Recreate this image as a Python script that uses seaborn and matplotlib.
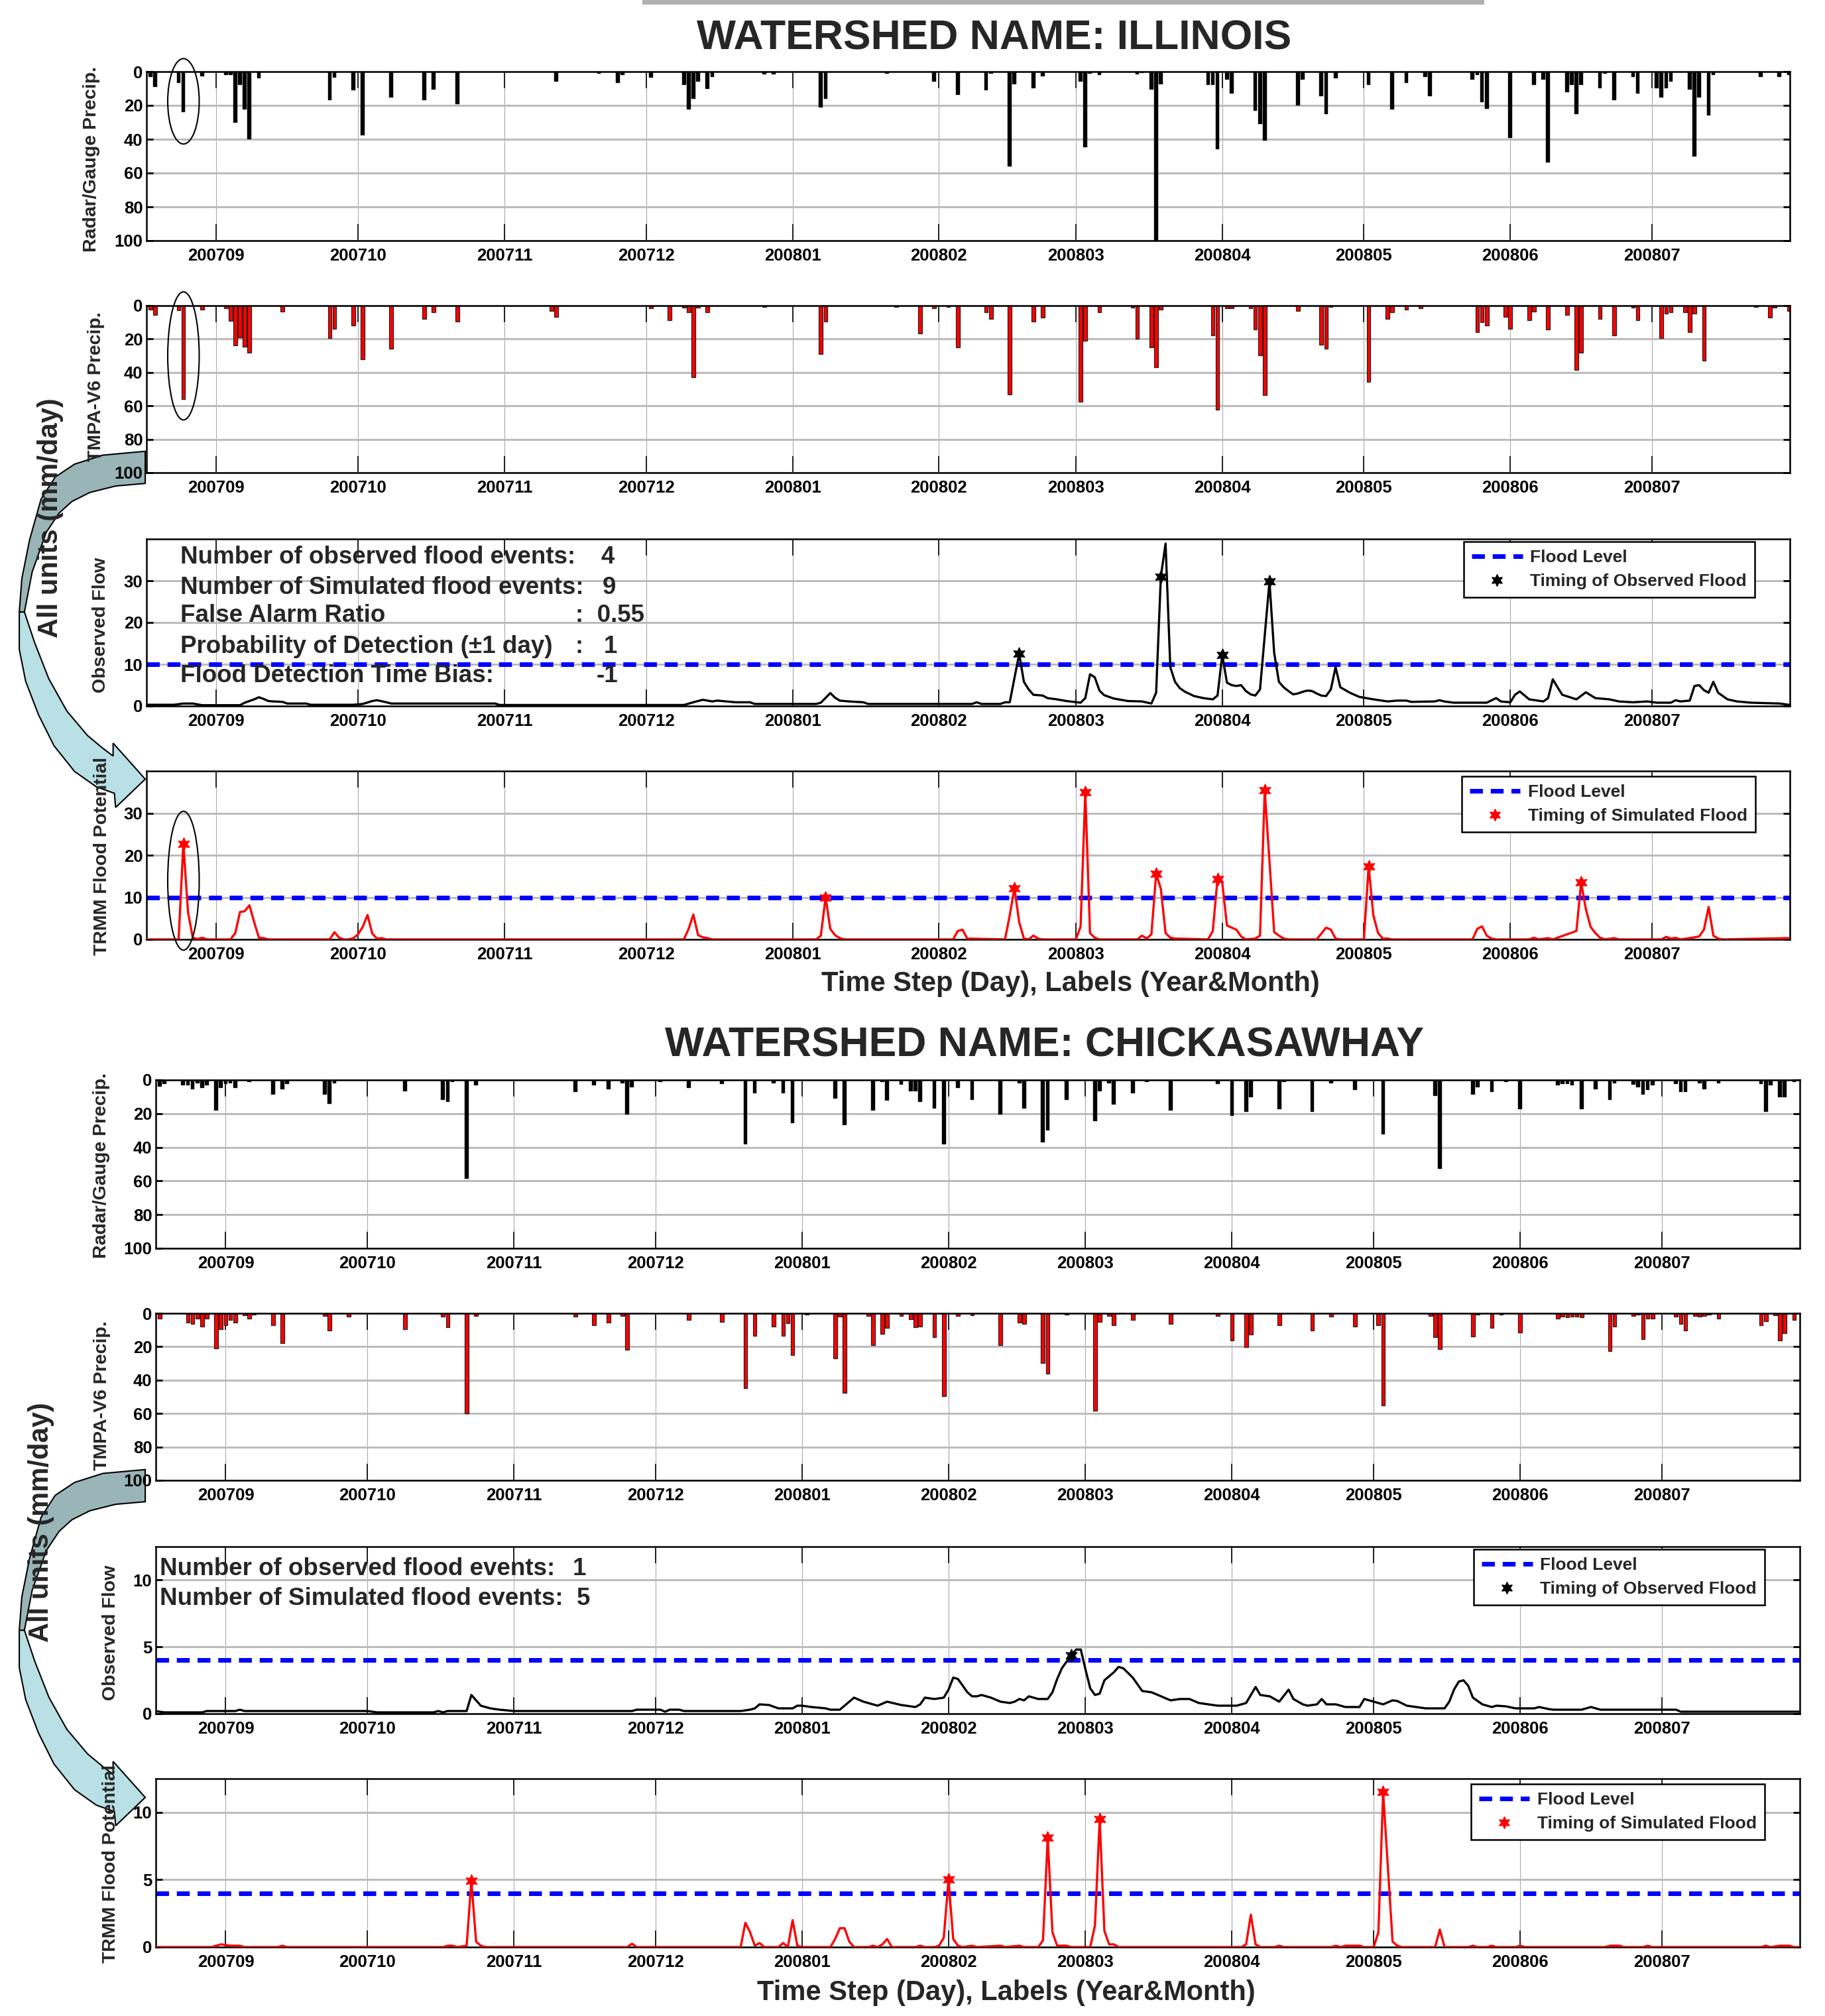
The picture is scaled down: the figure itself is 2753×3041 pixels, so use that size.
import matplotlib
matplotlib.use("Agg")
import matplotlib.pyplot as plt
import seaborn as sns
import numpy as np
import pandas as pd
from matplotlib.patches import Polygon, Ellipse, Rectangle
from matplotlib.lines import Line2D

# ---------------- data (day 0 = 2007-09-01) ----------------
month_days = [0, 30, 61, 91, 122, 153, 182, 213, 243, 274, 304]
month_labels = ["200709", "200710", "200711", "200712", "200801", "200802",
                "200803", "200804", "200805", "200806", "200807"]

il_radar = [(-14,3),(-13,9),(-8,6.6),(-7,24),(-3,2.6),(2,2),(3,2),(4,30),(5,8),(6,22.5),(7,40),(9,4),
            (24,17),(25,3.5),(29,11),(31,37.7),(37,15.4),(44,17),(46,10.7),(51,19.2),(72,6),(81,1),
            (85,6.6),(86,2),(92,3.6),(99,8),(100,22.5),(101,16),(102,5.7),(104,10),(105,3.3),(116,1.7),
            (118,1.7),(128,21),(129,16),(142,1),(152,6),(157,13.6),(163,11),(164,1),(168,56),(169,7.3),
            (173,9.7),(175,2.6),(183,6),(184,44.8),(185,1.3),(187,2),(195,1.7),(196,0.7),(198,10.6),
            (199,100),(200,7.3),(210,8),(211,8),(212,46),(214,4.6),(215,13),(220,23),(221,31),(222,40.7),
            (229,20),(230,4.6),(234,14.6),(235,25),(237,4),(244,8),(249,22.5),(252,6.6),(256,3.3),
            (257,14.6),(266,4.6),(267,2),(268,18),(269,22),(274,39.3),(279,8),(281,4.6),(282,53.6),
            (286,12),(287,8),(288,25),(289,8),(293,9.7),(294,1.3),(296,17),(300,3),(301,13),(305,9.7),
            (306,15.2),(307,9.7),(308,6),(312,10.6),(313,50),(314,15.2),(316,26),(317,2),(327,3.3),
            (331,3.3),(333,2)]

il_tmpa = [(-14,2.4),(-13,5.7),(-8,2.7),(-7,56),(-3,2.4),(2,1.5),(3,9),(4,24),(5,19),(6,24.8),(7,28),
           (14,3.5),(24,19.3),(25,13.7),(29,12),(31,32),(37,25.7),(44,8),(46,4),(51,9.7),(71,3),(72,6.7),
           (92,1.7),(96,8.8),(99,1),(100,4),(101,43),(102,1),(104,4),(116,0.8),(128,29),(129,9.7),
           (144,0.8),(149,16.8),(152,1.5),(155,0.8),(157,25),(163,4),(164,8),(168,53),(173,9.7),(175,7.3),
           (183,57.7),(184,21),(187,4),(194,1),(195,20),(198,25),(199,36.8),(200,2.4),(211,17.7),
           (212,62.3),(214,1.5),(215,1.7),(219,1.5),(220,14.4),(221,29.7),(222,53.7),(229,3),(234,23.3),
           (235,25.7),(236,0.8),(244,45.7),(248,8),(249,4),(252,2.4),(255,1.7),(267,16),(268,10),(269,12),
           (273,6.7),(274,13.7),(278,8.8),(279,3.5),(282,14.4),(286,5.7),(288,38.4),(289,28),(293,8),
           (296,17.7),(300,1),(301,8.8),(306,19.3),(307,4.8),(308,4),(311,4),(312,16),(313,4.8),(315,33),
           (326,0.8),(329,7),(330,1),(333,3)]

il_obs = [(-15,0.3),(-9,0.3),(-7,0.6),(-5,0.6),(-3,0.2),(5,0.2),(6,0.8),(8,1.6),(9,2.1),(10,1.7),(11,1.2),
          (12,1.1),(14,1.0),(15,0.6),(19,0.6),(20,0.3),(29,0.3),(31,0.5),(33,1.2),(34,1.4),(36,0.9),(37,0.6),
          (59,0.6),(60,0.25),(99,0.25),(101,0.9),(103,1.5),(105,1.1),(106,1.3),(108,1.1),(110,0.9),(113,0.9),
          (114,0.5),(127,0.5),(128,0.8),(130,3.1),(131,2.0),(132,1.3),(134,1.1),(137,0.9),(138,0.5),
          (160,0.5),(161,0.9),(162,0.5),(166,0.5),(167,0.9),(168,0.9),(170,12.5),(171,5.8),(172,4.0),
          (173,2.7),(175,2.5),(176,1.9),(178,1.6),(180,1.2),(183,0.8),(184,1.9),(185,7.6),(186,6.9),
          (187,3.7),(188,2.6),(190,1.8),(193,1.2),(196,1.1),(198,0.6),(199,3.2),(200,31.0),(201,38.9),
          (202,9.3),(203,5.8),(204,4.3),(205,3.5),(207,2.4),(209,1.9),(211,1.6),(212,2.5),(213,12.2),
          (214,5.6),(215,5.0),(216,4.8),(217,5.0),(218,3.6),(219,2.8),(220,2.5),(221,4.0),(223,29.8),
          (224,12.7),(225,5.8),(226,4.5),(227,3.6),(228,2.8),(229,3.0),(230,3.4),(231,3.7),(232,3.6),
          (233,3.0),(234,2.5),(235,2.4),(236,4.0),(237,9.3),(238,4.5),(240,3.2),(242,2.2),(245,1.6),
          (248,1.1),(250,1.3),(252,1.3),(253,1.0),(258,1.1),(259,1.4),(260,1.1),(262,0.8),(269,0.8),
          (271,1.9),(272,1.1),(274,0.9),(275,2.7),(276,3.5),(278,1.6),(281,1.1),(282,1.9),(283,6.4),
          (284,4.5),(285,2.7),(288,1.6),(290,3.3),(292,1.9),(295,1.6),(297,1.1),(300,0.9),(303,1.1),
          (305,0.8),(308,0.8),(309,1.4),(310,1.1),(312,1.3),(313,4.8),(314,5.0),(315,3.8),(316,3.2),
          (317,5.8),(318,3.2),(320,1.6),(322,1.1),(325,0.8),(331,0.6),(333,0.3)]
il_obs_flood = [(170,12.5),(200,31.0),(213,12.2),(223,29.8)]

il_trmm = [(-15,0),(-8,0),(-7,22.7),(-6,6.4),(-5,0.4),(-4,0.1),(-3,0.4),(-2,0),(3,0),(4,1.5),(5,6.5),
           (6,6.7),(7,8.1),(8,4.1),(9,0.4),(10,0.3),(11,0),(24,0),(25,1.7),(26,0.4),(27,0),(28,0),(29,0.3),
           (30,1.2),(31,3.0),(32,5.8),(33,1.4),(34,0.2),(35,0.3),(36,0),(99,0),(100,2.5),(101,5.9),(102,1.0),
           (103,0.5),(104,0.3),(105,0),(127,0),(128,0.9),(129,10.0),(130,2.5),(131,1.0),(132,0.3),(133,0),
           (156,0),(157,2.0),(158,2.3),(159,0.2),(167,0),(168,5.7),(169,12.2),(170,4.1),(171,0.2),(172,0),
           (173,0.9),(174,0.2),(175,0),(182,0),(183,3.0),(184,35.0),(185,1.5),(186,0.4),(187,0),(195,0),
           (196,0.9),(197,0.2),(198,1.2),(199,15.6),(200,12.0),(201,1.5),(202,0.4),(203,0.2),(210,0),
           (211,2.0),(212,14.4),(213,13.5),(214,3.3),(215,2.8),(216,2.3),(217,0.7),(218,0),(220,0.2),
           (221,0.9),(222,35.5),(224,1.7),(225,0.9),(226,0.2),(227,0),(233,0),(235,2.8),(236,2.3),(237,0.2),
           (238,0),(243,0),(244,17.4),(245,5.7),(246,1.5),(247,0.2),(248,0.2),(249,0),(266,0),(267,2.5),
           (268,3.1),(269,0.9),(270,0.2),(271,0),(278,0),(279,0.4),(280,0),(282,0.3),(283,0),(288,2.0),
           (289,13.5),(290,7.2),(291,3.0),(292,1.5),(293,0.4),(294,0),(296,0.3),(297,0),(306,0),(307,0.6),
           (308,0.2),(309,0.4),(310,0),(312,0.3),(314,0.7),(315,2.3),(316,7.7),(317,0.9),(318,0.2),(319,0),
           (333,0.3)]
il_trmm_flood = [(-7,22.7),(129,10.0),(169,12.2),(184,35.0),(199,15.6),(212,14.4),(222,35.5),(244,17.4),(289,13.5)]

ch_radar = [(-14,3.8),(-13,2.3),(-9,3.2),(-8,3.2),(-7,5.7),(-6,1.9),(-5,4.8),(-4,3.2),(-2,18),(-1,4.6),
            (0,2.3),(1,1.9),(2,4.8),(5,1),(10,8.6),(12,5.7),(13,2.3),(21,8.6),(22,14.3),(23,1.9),(38,6.5),
            (46,11.8),(47,12.8),(48,1),(51,58.6),(53,3.2),(74,7),(78,3.2),(81,5.7),(84,1.9),(85,20.4),
            (86,4.2),(92,1),(98,4.8),(105,2.3),(110,38),(112,8),(116,1.9),(118,8),(120,25.6),(129,10.9),
            (131,26.7),(137,18),(139,1),(140,12.4),(143,2.7),(145,6.5),(146,6.7),(147,12.8),(150,17),
            (152,38),(155,4.8),(158,11.8),(164,20.4),(168,1.9),(169,17),(173,37.2),(174,30),(178,11.8),
            (184,24.6),(185,6.7),(187,1.9),(188,14.7),(192,8),(195,1),(200,18),(210,2.3),(213,21.4),
            (216,19),(217,10.3),(223,17.2),(224,1),(230,19),(234,1.9),(239,6.1),(245,32.3),(256,9.5),
            (257,52.9),(264,8.6),(265,4.2),(268,7),(271,1),(274,17.2),(282,3.2),(283,2.3),(284,2.3),
            (285,3.2),(287,17.2),(290,5.7),(293,11.8),(294,1.9),(298,2.9),(299,4.2),(300,8.6),(301,6.1),
            (302,3.2),(307,2.3),(308,7),(309,7),(312,1.9),(313,5.7),(316,1.9),(325,2.3),(326,19),(327,3.2),
            (329,10.3),(330,10.3),(332,1)]

ch_tmpa = [(-14,3.1),(-8,5.6),(-7,6.4),(-6,3.3),(-5,8),(-4,3.3),(-2,21),(-1,9.5),(0,7),(1,4.1),(2,5.6),
           (4,1.2),(5,3.1),(6,0.8),(10,7.2),(12,17.7),(21,1.6),(22,10.3),(26,2.1),(38,9.5),(46,2.1),(47,8.5),
           (51,60),(53,1.6),(74,2.1),(78,7),(81,5.6),(84,1.6),(85,22),(98,4.1),(105,5),(110,44.9),(112,13.4),
           (116,8),(118,13.4),(119,6),(120,24.9),(123,0.8),(129,27),(130,2.1),(131,47.8),(136,1.6),
           (137,19.2),(139,12.4),(140,8.9),(143,1.6),(145,3.7),(146,8.5),(147,8),(150,14.4),(152,49.7),
           (155,1.6),(158,1.2),(164,19.2),(168,5.6),(169,6.4),(173,29.7),(174,36),(178,0.8),(184,58.4),
           (185,5),(187,1.7),(188,7),(192,4.1),(200,6.4),(210,1.6),(213,16.3),(216,20.2),(217,12.8),
           (223,7.2),(230,10.5),(234,2.1),(239,8),(244,7),(245,55),(255,1.6),(256,14.4),(257,21.6),
           (264,13.8),(265,0.8),(268,8.9),(270,0.8),(274,11.5),(282,3.1),(283,2.1),(284,2.5),(285,2.1),
           (286,2.1),(287,2.5),(293,22.5),(294,8),(298,1.6),(299,0.8),(300,15.3),(301,3.1),(302,3.1),
           (307,2.1),(308,6.4),(309,10.3),(311,1.6),(312,2.1),(313,1.6),(314,0.8),(316,3.1),(325,7),
           (326,4.7),(328,1.2),(329,16.1),(330,11.8),(332,4.1)]

ch_obs = [(-15,0.2),(-13,0.1),(-5,0.1),(-4,0.2),(2,0.2),(3,0.3),(4,0.2),(30,0.2),(32,0.1),(44,0.1),(45,0.2),
          (46,0.1),(47,0.2),(51,0.2),(52,1.4),(54,0.6),(56,0.4),(58,0.3),(61,0.2),(86,0.2),(87,0.3),(92,0.3),
          (93,0.15),(94,0.3),(96,0.3),(97,0.2),(109,0.2),(111,0.3),(112,0.4),(113,0.7),(115,0.65),(117,0.4),
          (120,0.4),(121,0.6),(122,0.6),(124,0.5),(127,0.4),(128,0.3),(130,0.3),(131,0.6),(133,1.2),
          (135,0.9),(138,0.6),(140,0.9),(143,0.65),(146,0.5),(147,0.7),(148,1.2),(150,1.1),(152,1.2),
          (153,1.8),(154,2.7),(155,2.6),(157,1.6),(158,1.3),(159,1.3),(160,1.4),(162,1.2),(164,0.9),
          (166,0.8),(167,0.9),(168,1.1),(169,1.0),(170,1.3),(172,1.1),(174,1.1),(175,1.6),(176,2.6),
          (177,3.4),(178,3.9),(179,4.35),(180,4.8),(181,4.8),(182,3.3),(183,1.9),(184,1.4),(185,1.5),
          (186,2.5),(188,3.1),(189,3.5),(190,3.4),(192,2.7),(194,1.7),(196,1.6),(198,1.3),(200,1.0),
          (202,1.1),(204,1.1),(206,0.8),(207,0.75),(210,0.6),(214,0.6),(216,0.8),(218,2.0),(219,1.4),
          (221,1.3),(222,1.1),(223,0.9),(225,1.8),(226,1.1),(228,0.7),(229,0.6),(231,0.7),(232,1.1),
          (233,0.7),(235,0.7),(237,0.5),(240,0.5),(241,1.1),(243,0.9),(245,0.7),(247,1.0),(248,0.95),
          (250,0.6),(252,0.5),(254,0.4),(258,0.4),(259,0.9),(260,1.8),(261,2.4),(262,2.5),(263,2.1),
          (264,1.2),(266,0.7),(268,0.5),(269,0.6),(271,0.55),(273,0.4),(277,0.4),(278,0.5),(280,0.35),
          (281,0.3),(287,0.3),(289,0.5),(291,0.3),(307,0.3),(308,0.15),(333,0.15)]
ch_obs_flood = [(179,4.35)]

ch_trmm = [(-15,0),(-3,0),(-2,0.1),(-1,0.2),(1,0.1),(3,0.1),(4,0),(11,0),(12,0.1),(13,0),(46,0),(47,0.1),
           (48,0.1),(49,0),(51,0.1),(52,4.9),(53,0.4),(54,0.1),(55,0),(85,0),(86,0.25),(87,0),(109,0),
           (110,1.8),(111,1.1),(112,0.1),(113,0.3),(114,0),(117,0),(118,0.3),(119,0),(120,2.0),(121,0.1),
           (122,0),(128,0),(129,0.6),(130,1.4),(131,1.4),(132,0.4),(133,0),(136,0),(137,0.1),(138,0),
           (139,0.2),(140,0.6),(141,0),(146,0),(147,0.1),(148,0),(150,0),(151,0.1),(152,0.7),(153,5.0),
           (154,0.6),(155,0.1),(156,0),(158,0.1),(159,0),(164,0.1),(165,0),(168,0.1),(169,0),(172,0),
           (173,0.5),(174,8.1),(175,1.1),(176,0.1),(178,0.1),(179,0),(183,0),(184,1.6),(185,9.5),(186,1.2),
           (187,0.2),(188,0.2),(189,0),(215,0),(216,0.2),(217,2.4),(218,0.2),(219,0),(222,0),(223,0.1),
           (224,0),(234,0),(235,0.1),(236,0),(237,0.1),(240,0.1),(241,0),(243,0),(244,1.1),(245,11.5),
           (247,0.4),(248,0.1),(249,0),(256,0),(257,1.3),(258,0),(263,0),(264,0.1),(265,0),(267,0),
           (268,0.1),(269,0),(273,0),(274,0.1),(275,0),(292,0),(293,0.1),(295,0.1),(296,0),(300,0),
           (301,0.1),(302,0),(325,0),(326,0.1),(327,0),(329,0.1),(331,0.1),(332,0),(333,0)]
ch_trmm_flood = [(52,4.9),(153,5.0),(174,8.1),(185,9.5),(245,11.5)]

il_stats_labels = ["Number of observed flood events:", "Number of Simulated flood events:",
                   "False Alarm Ratio", "Probability of Detection (\u00b11 day)",
                   "Flood Detection Time Bias:"]
il_stats_values = ["4", "9", ":  0.55", ":   1", "-1"]
ch_stats_labels = ["Number of observed flood events:", "Number of Simulated flood events:"]
ch_stats_values = ["1", "5"]

# ---------------- figure ----------------
sns.set_theme(style="white")
plt.rcParams["font.family"] = ["Liberation Sans", "DejaVu Sans"]
plt.rcParams["font.weight"] = "bold"
plt.rcParams["axes.labelweight"] = "bold"

W, H = 2753, 3041
fig = plt.figure(figsize=(W / 100, H / 100), dpi=100)
fig.patch.set_facecolor("white")


def F(x, y):
    return x / W, 1 - y / H


def S(x, y):  # reference (shrunk) coords -> figure fraction
    return x / 1420.0, 1 - y / 1568.0


def add_ax(l, t, r, b):
    return fig.add_axes([l / W, 1 - b / H, (r - l) / W, (b - t) / H])


BLUE = "#0000ff"
FL_DASH = (2.8, 1.7)


def style(ax, ylim, yticks):
    ax.set_xlim(-14.8, 333.2)
    ax.set_xticks(month_days)
    ax.set_xticklabels(month_labels)
    ax.set_yticks(yticks)
    ax.set_yticklabels([str(t) for t in yticks])
    ax.set_ylim(*ylim)
    ax.set_axisbelow(True)
    ax.grid(axis="y", color="#bcbcbc", lw=2.2)
    ax.grid(axis="x", color="#a8a8a8", lw=0.8)
    ax.tick_params(axis="x", direction="in", length=18, width=1.2, top=True, bottom=True,
                   pad=8, labelsize=18.5, colors="black")
    ax.tick_params(axis="y", direction="in", length=7, width=2, left=True, right=True,
                   pad=4, labelsize=18.5, colors="black")
    for lab in ax.get_xticklabels() + ax.get_yticklabels():
        lab.set_fontweight("bold")
    for sp in ax.spines.values():
        sp.set_visible(True)
        sp.set_color("black")
        sp.set_linewidth(1.8)
    ax.set_xlabel("")
    ax.set_ylabel("")
    ax.set_facecolor("white")


def bar_panel(ax, data, color, edge, lw):
    d, v = zip(*data)
    df = pd.DataFrame({"day": d, "val": v})
    sns.barplot(data=df, x="day", y="val", native_scale=True, color=color, saturation=1,
                edgecolor=edge, linewidth=lw, width=0.8, errorbar=None, ax=ax)
    style(ax, (100, 0), [0, 20, 40, 60, 80, 100])


def flow_panel(ax, line, stars, color, flood, ylim, yticks, leg_label, anchor):
    ax.axhline(flood, color=BLUE, lw=5, dashes=FL_DASH, zorder=2)
    d, v = zip(*line)
    sns.lineplot(x=list(d), y=list(v), color=color, linewidth=2.4, estimator=None,
                 sort=False, ax=ax, zorder=3)
    sd, sv = zip(*stars)
    sns.scatterplot(x=list(sd), y=list(sv), marker=(6, 1, 0), s=190, color=color,
                    edgecolor=color, linewidth=1, ax=ax, zorder=4, legend=False)
    style(ax, ylim, yticks)
    handles = [Line2D([], [], color=BLUE, lw=5, dashes=FL_DASH),
               Line2D([], [], ls="none", marker=(6, 1, 0), markersize=13, color=color)]
    leg = ax.legend(handles, ["Flood Level", leg_label], loc="upper right",
                    bbox_to_anchor=anchor, borderaxespad=0, fontsize=19, frameon=True,
                    fancybox=False, edgecolor="black", framealpha=1, handlelength=2.9,
                    handletextpad=0.45, borderpad=0.45, labelspacing=0.45)
    leg.get_frame().set_linewidth(1.8)
    for t in leg.get_texts():
        t.set_fontweight("bold")


# ---- decorations under axes: curved arrows ----
dark_pts = [(113, 351), (80, 354), (58, 361), (43, 371), (32, 388), (23, 420), (17, 450), (15, 476),
            (19, 476), (25, 445), (36, 414), (46, 399), (56, 390), (70, 383), (90, 378), (113, 376)]
light_pts = [(15, 476), (15, 505), (20, 530), (30, 556), (42, 580), (58, 600), (75, 612), (89, 617),
             (90, 628), (113, 606), (88, 578), (88, 588), (80, 582), (68, 572), (52, 553),
             (38, 528), (27, 500), (19, 476)]
for shift in (0, 792):
    fig.add_artist(Polygon([S(x, y + shift) for x, y in dark_pts], closed=True,
                           facecolor="#9ab5b8", edgecolor="black", lw=1.5,
                           transform=fig.transFigure, zorder=-1))
    fig.add_artist(Polygon([S(x, y + shift) for x, y in light_pts], closed=True,
                           facecolor="#b9e0e4", edgecolor="black", lw=1.5,
                           transform=fig.transFigure, zorder=-1))

# top grey shadow bar
fig.add_artist(Rectangle(F(969, 7), (2239 - 969) / W, 7 / H, facecolor="#b0b0b0",
                         edgecolor="none", transform=fig.transFigure, zorder=-1))

# ---------------- panels ----------------
L1, R1 = 221, 2700
L2, R2 = 235, 2715

ax1 = add_ax(L1, 108, R1, 363)
bar_panel(ax1, il_radar, "black", "black", 0.3)
ax2 = add_ax(L1, 461, R1, 713)
bar_panel(ax2, il_tmpa, "#ff0000", "#202020", 0.9)
ax3 = add_ax(L1, 813, R1, 1065)
flow_panel(ax3, il_obs, il_obs_flood, "black", 10, (0, 40), [0, 10, 20, 30],
           "Timing of Observed Flood", (0.9786, 0.984))
ax4 = add_ax(L1, 1163, R1, 1417)
flow_panel(ax4, il_trmm, il_trmm_flood, "#ff0000", 10, (0, 40), [0, 10, 20, 30],
           "Timing of Simulated Flood", (0.979, 0.9685))

ax5 = add_ax(L2, 1629, R2, 1883)
bar_panel(ax5, ch_radar, "black", "black", 0.3)
ax6 = add_ax(L2, 1981, R2, 2233)
bar_panel(ax6, ch_tmpa, "#ff0000", "#202020", 0.9)
ax7 = add_ax(L2, 2333, R2, 2585)
flow_panel(ax7, ch_obs, ch_obs_flood, "black", 4, (0, 12.5), [0, 5, 10],
           "Timing of Observed Flood", (0.9786, 0.984))
ax8 = add_ax(L2, 2683, R2, 2937)
flow_panel(ax8, ch_trmm, ch_trmm_flood, "#ff0000", 4, (0, 12.5), [0, 5, 10],
           "Timing of Simulated Flood", (0.9786, 0.9685))

# ---------------- texts ----------------
fig.text(*F(1500, 58), "WATERSHED NAME: ILLINOIS", ha="center", va="center",
         fontsize=45, fontweight="bold")
fig.text(*F(1576, 1577), "WATERSHED NAME: CHICKASAWHAY", ha="center", va="center",
         fontsize=45, fontweight="bold")

xl = "Time Step (Day), Labels (Year&Month)"
fig.text(*F(1615, 1484), xl, ha="center", va="center", fontsize=30, fontweight="bold")
fig.text(*F(1518, 3006), xl, ha="center", va="center", fontsize=30, fontweight="bold")

ylabels = [("Radar/Gauge Precip.", 138, 240), ("TMPA-V6 Precip.", 145, 583),
           ("Observed Flow", 152, 943), ("TRMM Flood Potential", 154, 1291),
           ("Radar/Gauge Precip.", 153, 1758), ("TMPA-V6 Precip.", 154, 2105),
           ("Observed Flow", 167, 2463), ("TRMM Flood Potential", 167, 2811)]
for txt, x, y in ylabels:
    fig.text(*F(x, y), txt, rotation=90, ha="center", va="center", fontsize=20.5,
             fontweight="bold")

fig.text(*S(39, 403), "All units (mm/day)", rotation=90, ha="center", va="center",
         fontsize=30, fontweight="bold", zorder=5)
fig.text(*S(32, 1184), "All units (mm/day)", rotation=90, ha="center", va="center",
         fontsize=30, fontweight="bold", zorder=5)

# stats text (top)
il_base = [850, 896, 938, 985, 1029]
il_val_x = [906, 909, 868, 868, 900]
for lab, val, yb, vx in zip(il_stats_labels, il_stats_values, il_base, il_val_x):
    fig.text(*F(272, yb), lab, ha="left", va="baseline", fontsize=26.5, fontweight="bold")
    fig.text(*F(vx, yb), val, ha="left", va="baseline", fontsize=26.5, fontweight="bold")
ch_base = [2376, 2421]
ch_val_x = [864, 870]
for lab, val, yb, vx in zip(ch_stats_labels, ch_stats_values, ch_base, ch_val_x):
    fig.text(*F(241, yb), lab, ha="left", va="baseline", fontsize=26.5, fontweight="bold")
    fig.text(*F(vx, yb), val, ha="left", va="baseline", fontsize=26.5, fontweight="bold")

# ellipses
for cy, hh in [(78.8, 66.4), (276.8, 99.6), (685, 108)]:
    cx, cyf = S(142.75, cy)
    fig.add_artist(Ellipse((cx, cyf), 24.5 / 1420, hh / 1568, facecolor="none",
                           edgecolor="black", lw=1.5, transform=fig.transFigure, zorder=6))

fig.savefig("out.png", dpi=100, facecolor="white")
